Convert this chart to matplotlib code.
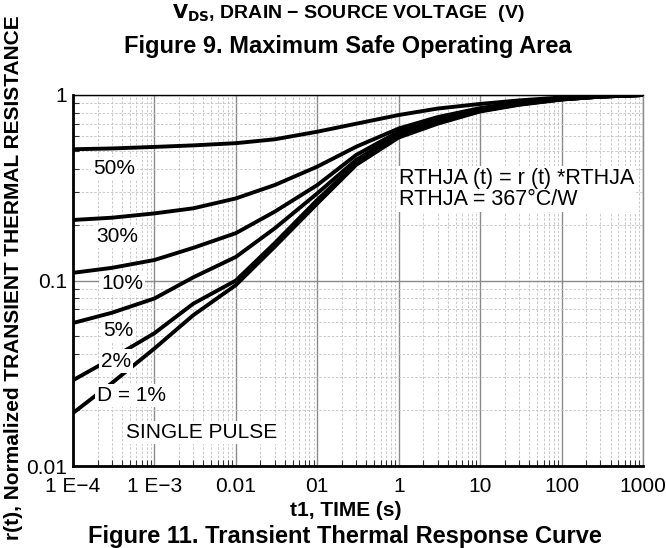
import matplotlib
matplotlib.use("Agg")
import matplotlib.pyplot as plt
from matplotlib.ticker import LogLocator, FixedLocator, NullFormatter

plt.rcParams['font.family'] = ['Liberation Sans', 'DejaVu Sans']

# courbes (r(t) pour chaque rapport cyclique)
temps = [1e-4, 3e-4, 1e-3, 3e-3, 1e-2, 3e-2, 0.1, 0.3, 1, 3, 10, 30, 100, 300, 1000]
r_50 = [0.51, 0.515, 0.525, 0.535, 0.55, 0.577, 0.634, 0.70, 0.78, 0.845, 0.895, 0.935, 0.97, 0.988, 1.0]
r_30 = [0.212, 0.218, 0.23, 0.245, 0.277, 0.327, 0.411, 0.526, 0.66, 0.76, 0.85, 0.91, 0.955, 0.982, 1.0]
r_10 = [0.11, 0.117, 0.129, 0.15, 0.18, 0.235, 0.327, 0.475, 0.635, 0.735, 0.835, 0.90, 0.95, 0.98, 1.0]
r_5 = [0.059, 0.067, 0.08, 0.104, 0.134, 0.191, 0.295, 0.447, 0.615, 0.72, 0.825, 0.895, 0.948, 0.98, 1.0]
r_2 = [0.029, 0.038, 0.052, 0.075, 0.1, 0.159, 0.272, 0.428, 0.60, 0.71, 0.82, 0.89, 0.946, 0.98, 1.0]
r_1 = [0.0193, 0.028, 0.043, 0.065, 0.0945, 0.152, 0.26, 0.42, 0.59, 0.70, 0.815, 0.885, 0.945, 0.98, 1.0]

x_ticks = [1e-4, 1e-3, 1e-2, 1e-1, 1, 10, 100, 1000]
x_labels = ["1 E\u22124", "1 E\u22123", "0.01", "01", "1", "10", "100", "1000"]
y_ticks = [0.01, 0.1, 1]
y_labels = ["0.01", "0.1", "1"]

# etiquettes des courbes : texte, t, r
etiquettes = [("50%", 3.2e-4, 0.40), ("30%", 3.5e-4, 0.172), ("10%", 4e-4, 0.096),
              ("5%", 3.6e-4, 0.0535), ("2%", 3.4e-4, 0.0368), ("D = 1%", 5.3e-4, 0.024),
              ("SINGLE PULSE", 3.85e-3, 0.0151)]

fig = plt.figure(figsize=(6.66, 5.48), dpi=100)
ax = fig.add_axes([73/666, 1-466/548, 570/666, 371/548])
ax.set_xscale("log")
ax.set_yscale("log")
ax.set_xlim(1e-4, 1000)
ax.set_ylim(0.01, 1)

ax.xaxis.set_major_locator(FixedLocator(x_ticks))
ax.set_xticklabels(x_labels)
ax.yaxis.set_major_locator(FixedLocator(y_ticks))
ax.set_yticklabels(y_labels)
ax.xaxis.set_minor_locator(LogLocator(base=10, subs=range(2, 10), numticks=20))
ax.yaxis.set_minor_locator(LogLocator(base=10, subs=range(2, 10), numticks=20))
ax.xaxis.set_minor_formatter(NullFormatter())
ax.yaxis.set_minor_formatter(NullFormatter())

ax.grid(True, which="major", color="#8a8a8a", lw=1.0, ls="-")
ax.grid(True, which="minor", color="#c2c2c2", lw=0.6, ls=(0, (3, 2)))
ax.set_axisbelow(True)
ax.tick_params(which="major", direction="in", length=0, labelsize=15)
ax.tick_params(axis="x", which="major", pad=8)
ax.tick_params(axis="y", which="major", pad=4)
ax.tick_params(which="minor", direction="in", length=4, width=0.8, color="#333333")
ax.tick_params(which="minor", top=False, right=False)

for s in ["left", "bottom"]:
    ax.spines[s].set_linewidth(2.0)
ax.spines["top"].set_linewidth(1.0)
ax.spines["right"].set_linewidth(1.0)
ax.spines["right"].set_color("#8a8a8a")

for serie in [r_50, r_30, r_10, r_5, r_2, r_1]:
    ax.plot(temps, serie, color="black", lw=2.8, solid_capstyle="butt",
            solid_joinstyle="round", zorder=3)

for txt, tx, ty in etiquettes:
    ax.text(tx, ty, txt, fontsize=15, ha="center", va="center", zorder=5,
            bbox=dict(facecolor="white", edgecolor="none", pad=1.5))

ax.text(1.0, 0.311, "RTHJA (t) = r (t) *RTHJA\nRTHJA = 367\u00b0C/W", fontsize=15.5,
        ha="left", va="center", linespacing=1.0, zorder=5,
        bbox=dict(facecolor="white", edgecolor="none", pad=1.5))

fig.text(346/666, 1-510/548, "t1, TIME (s)", fontsize=15, fontweight="bold", ha="center", va="center")
fig.text(14/666, 1-278/548, "r(t), Normalized TRANSIENT THERMAL RESISTANCE", fontsize=15,
         fontweight="bold", rotation=90, ha="center", va="center")
fig.text(348/666, 1-47/548, "Figure 9. Maximum Safe Operating Area", fontsize=17,
         fontweight="bold", ha="center", va="center")
fig.text(348/666, 1-13/548, "$\\mathbf{V_{DS}}$, DRAIN \u2212 SOURCE VOLTAGE  (V)", fontsize=14,
         fontweight="bold", ha="center", va="center")
fig.text(345/666, 1-537/548, "Figure 11. Transient Thermal Response Curve", fontsize=17,
         fontweight="bold", ha="center", va="center")

fig.savefig("out.png", dpi=100)
